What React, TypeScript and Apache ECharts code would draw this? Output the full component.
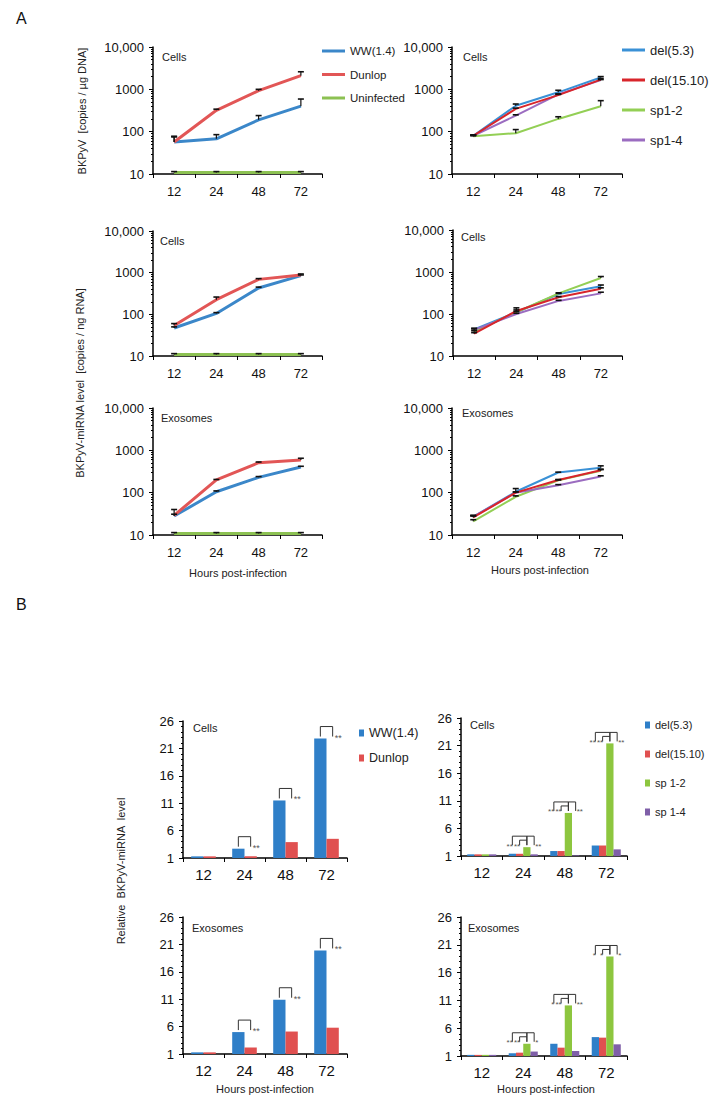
import React, { useEffect, useRef } from "react";
import * as echarts from "echarts";

// ---------- categories ----------
const hours = ["12", "24", "48", "72"];

// ---------- Panel A: BKPyV DNA, cells (left: WW/Dunlop/Uninfected) ----------
const dnaWW = [57, 68, 190, 400];
const dnaWWErr = [75, 85, 240, 590];
const dnaDunlop = [57, 320, 930, 2100];
const dnaDunlopErr = [78, 340, 1000, 2600];
const dnaUninf = [10.8, 10.8, 10.8, 10.8];
const dnaUninfErr = [11.4, 11.4, 11.4, 11.4];

// Panel A: BKPyV DNA, cells (right: mutants)
const dnaDel53 = [80, 410, 850, 1900];
const dnaDel53Err = [84, 450, 950, 2000];
const dnaDel1510 = [80, 345, 730, 1700];
const dnaDel1510Err = [84, 360, 760, 1800];
const dnaSp12 = [78, 92, 200, 400];
const dnaSp12Err = [80, 112, 225, 540];
const dnaSp14 = [80, 240, 760, 1650];
const dnaSp14Err = [82, 250, 780, 1700];

// Panel A: miRNA, cells (left)
const rnaWW = [47, 105, 430, 850];
const rnaWWErr = [50, 110, 450, 880];
const rnaDunlop = [54, 225, 690, 880];
const rnaDunlopErr = [60, 260, 720, 930];
const rnaUninf = [10.8, 10.8, 10.8, 10.8];
const rnaUninfErr = [11.4, 11.4, 11.4, 11.4];

// Panel A: miRNA, cells (right)
const rnaDel53 = [43, 110, 300, 460];
const rnaDel53Err = [46, 140, 310, 490];
const rnaDel1510 = [34, 118, 250, 400];
const rnaDel1510Err = [36, 125, 260, 420];
const rnaSp12 = [38, 110, 310, 720];
const rnaSp12Err = [40, 115, 320, 780];
const rnaSp14 = [42, 100, 205, 310];
const rnaSp14Err = [44, 104, 212, 330];

// Panel A: miRNA, exosomes (left)
const exoWW = [28, 105, 230, 405];
const exoWWErr = [31, 110, 240, 420];
const exoDunlop = [29, 200, 510, 595];
const exoDunlopErr = [40, 205, 530, 650];
const exoUninf = [10.8, 10.8, 10.8, 10.8];
const exoUninfErr = [11.4, 11.4, 11.4, 11.4];

// Panel A: miRNA, exosomes (right)
const exoDel53 = [27, 105, 300, 390];
const exoDel53Err = [29, 125, 305, 430];
const exoDel1510 = [26, 100, 200, 340];
const exoDel1510Err = [28, 104, 205, 360];
const exoSp12 = [21, 80, 195, 330];
const exoSp12Err = [23, 84, 200, 350];
const exoSp14 = [27, 100, 150, 240];
const exoSp14Err = [29, 104, 155, 250];

// ---------- Panel B: relative miRNA level ----------
const bCellsWW = [1.3, 2.7, 11.5, 22.8];
const bCellsDunlop = [1.3, 1.3, 3.9, 4.5];
const bExoWW = [1.3, 5.0, 10.9, 19.9];
const bExoDunlop = [1.3, 2.2, 5.1, 5.8];

const bCellsDel53 = [1.3, 1.4, 1.9, 2.9];
const bCellsDel1510 = [1.3, 1.4, 1.9, 2.9];
const bCellsSp12 = [1.3, 2.6, 8.8, 21.4];
const bCellsSp14 = [1.3, 1.3, 1.1, 2.2];
const bExoDel53 = [1.2, 1.5, 3.2, 4.4];
const bExoDel1510 = [1.2, 1.6, 2.5, 4.3];
const bExoSp12 = [1.2, 3.2, 10.1, 18.9];
const bExoSp14 = [1.2, 1.8, 1.9, 3.1];

// significance marks (for categories 24, 48, 72)
const sigCats = [1, 2, 3];
const sigLeftCells = ["**", "**", "**"];
const sigLeftExo = ["**", "**", "**"];
const sigRightCells = [["**", "**", "**"], ["**", "**", "**"], ["**", "**", "**"]];
const sigRightExo = [["**", "**", "*"], ["*", "**", "**"], ["*", "*", "*"]];

// ---------- layout & style ----------
const FONT = '"Liberation Sans", Arial, sans-serif';

const lineGrids = [
  { left: 153, top: 47, width: 169, height: 127 },
  { left: 452, top: 47, width: 170, height: 127 },
  { left: 153, top: 231, width: 169, height: 125 },
  { left: 453, top: 230, width: 169, height: 126 },
  { left: 153, top: 408, width: 169, height: 127 },
  { left: 452, top: 408, width: 170, height: 127 },
];
const barGrids = [
  { left: 183, top: 721, width: 164, height: 137 },
  { left: 461, top: 718, width: 166, height: 138 },
  { left: 183, top: 917, width: 164, height: 137 },
  { left: 461, top: 917, width: 166, height: 139 },
];

const C = {
  ww: "#3b87c9",
  dunlop: "#e25656",
  uninf: "#8cc152",
  del53: "#3a91d6",
  del1510: "#d8252b",
  sp12: "#93cf55",
  sp14: "#9b6cc0",
  bBlue: "#2f7fc8",
  bRed: "#e05050",
  bGreen: "#8dc63f",
  bPurple: "#7f5fa8",
};

const errRender = (params: any, api: any) => {
  const a = api.coord([api.value(0), api.value(1)]);
  const b = api.coord([api.value(0), api.value(2)]);
  return {
    type: "group",
    children: [
      { type: "line", shape: { x1: a[0], y1: a[1], x2: b[0], y2: b[1] }, style: { stroke: "#111", lineWidth: 1.2 } },
      { type: "line", shape: { x1: b[0] - 3, y1: b[1], x2: b[0] + 3, y2: b[1] }, style: { stroke: "#111", lineWidth: 1.6 } },
    ],
  };
};

const bracketLeft = (stars: string[]) => (params: any, api: any) => {
  const p = api.coord([api.value(0), api.value(1)]);
  const bw = api.size([1, 0])[0];
  const barW = (bw * 0.6) / 2;
  const x0 = p[0] - barW / 2;
  const x1 = p[0] + barW / 2;
  const top = p[1] - 12;
  const bot = p[1] - 2;
  return {
    type: "group",
    children: [
      { type: "polyline", shape: { points: [[x0, bot], [x0, top], [x1, top], [x1, bot]] }, style: { stroke: "#333", lineWidth: 1, fill: null } },
      { type: "text", x: x1 + 2, y: p[1] - 1, style: { text: stars[params.dataIndex], fontSize: 9, fill: "#555", align: "left", verticalAlign: "middle", fontFamily: FONT } },
    ],
  };
};

const bracketRight = (stars: string[][]) => (params: any, api: any) => {
  const p = api.coord([api.value(0), api.value(1)]);
  const bw = api.size([1, 0])[0];
  const barW = (bw * 0.7) / 4;
  const c = [0, 1, 2, 3].map((i) => p[0] - 2 * barW + barW * (i + 0.5));
  const t1 = p[1] - 11;
  const t2 = p[1] - 7;
  const bot = p[1] - 2;
  const s = stars[params.dataIndex];
  const st = { stroke: "#333", lineWidth: 1, fill: null };
  const ts = (text: string, x: number, align: string) => ({
    type: "text",
    x,
    y: p[1] - 1,
    style: { text, fontSize: 8, fill: "#555", align, verticalAlign: "middle", fontFamily: FONT },
  });
  return {
    type: "group",
    children: [
      { type: "polyline", shape: { points: [[c[0], bot], [c[0], t1], [c[2], t1], [c[2], bot]] }, style: st },
      { type: "polyline", shape: { points: [[c[1], bot], [c[1], t2], [c[2], t2]] }, style: st },
      { type: "polyline", shape: { points: [[c[2], bot], [c[2], t1], [c[3], t1], [c[3], bot]] }, style: st },
      ts(s[0], c[0] + 0.5, "right"),
      ts(s[1], c[1] + 0.5, "right"),
      ts(s[2], c[3] + 1, "left"),
    ],
  };
};

function buildOption() {
  const grid: any[] = [];
  const xAxis: any[] = [];
  const yAxis: any[] = [];
  const series: any[] = [];

  lineGrids.forEach((g, i) => {
    grid.push({ ...g });
    xAxis.push({
      type: "category",
      gridIndex: i,
      data: hours,
      boundaryGap: true,
      axisLine: { lineStyle: { color: "#000", width: 1.5 } },
      axisTick: { show: true, length: 4, lineStyle: { color: "#000", width: 1 } },
      axisLabel: { color: "#111", fontSize: 13, fontFamily: FONT, margin: 11 },
    });
    yAxis.push({
      type: "log",
      logBase: 10,
      min: 10,
      max: 10000,
      gridIndex: i,
      axisLine: { show: true, lineStyle: { color: "#000", width: 1.5 } },
      axisTick: { show: true, length: 4, lineStyle: { color: "#000", width: 1 } },
      minorTick: { show: true, splitNumber: 9, length: 2, lineStyle: { color: "#000", width: 1 } },
      splitLine: { show: false },
      minorSplitLine: { show: false },
      axisLabel: {
        color: "#111",
        fontSize: 13,
        fontFamily: FONT,
        margin: 9,
        formatter: (v: number) => {
          const r = Math.round(v);
          return r >= 10000 ? "10,000" : String(r);
        },
      },
    });
  });

  barGrids.forEach((g, j) => {
    const i = j + 6;
    grid.push({ ...g });
    xAxis.push({
      type: "category",
      gridIndex: i,
      data: hours,
      boundaryGap: true,
      axisLine: { lineStyle: { color: "#000", width: 1.5 } },
      axisTick: { show: true, length: 4, lineStyle: { color: "#000", width: 1 } },
      axisLabel: { color: "#111", fontSize: 15, fontFamily: FONT, margin: 9 },
    });
    yAxis.push({
      type: "value",
      min: 1,
      max: 26,
      interval: 5,
      gridIndex: i,
      axisLine: { show: true, lineStyle: { color: "#000", width: 1.5 } },
      axisTick: { show: true, length: 4, lineStyle: { color: "#000", width: 1 } },
      minorTick: { show: true, splitNumber: 5, length: 2, lineStyle: { color: "#000", width: 1 } },
      splitLine: { show: false },
      axisLabel: { color: "#111", fontSize: 13, fontFamily: FONT, margin: 9 },
    });
  });

  const line = (idx: number, name: string, data: number[], err: number[], color: string, width: number) => {
    series.push({
      type: "line",
      name,
      xAxisIndex: idx,
      yAxisIndex: idx,
      data,
      showSymbol: false,
      symbol: "none",
      lineStyle: { width, color },
      itemStyle: { color },
      z: 2,
    });
    series.push({
      type: "custom",
      name: name + "-err",
      xAxisIndex: idx,
      yAxisIndex: idx,
      data: data.map((v, k) => [k, v, err[k]]),
      renderItem: errRender,
      silent: true,
      z: 5,
    });
  };

  const leftSets = [
    [dnaWW, dnaWWErr, dnaDunlop, dnaDunlopErr, dnaUninf, dnaUninfErr],
    [rnaWW, rnaWWErr, rnaDunlop, rnaDunlopErr, rnaUninf, rnaUninfErr],
    [exoWW, exoWWErr, exoDunlop, exoDunlopErr, exoUninf, exoUninfErr],
  ];
  leftSets.forEach((s, r) => {
    const idx = r * 2;
    line(idx, "Uninfected", s[4], s[5], C.uninf, 3);
    line(idx, "WW(1.4)", s[0], s[1], C.ww, 3);
    line(idx, "Dunlop", s[2], s[3], C.dunlop, 3);
  });
  const rightSets = [
    [dnaDel53, dnaDel53Err, dnaDel1510, dnaDel1510Err, dnaSp12, dnaSp12Err, dnaSp14, dnaSp14Err],
    [rnaDel53, rnaDel53Err, rnaDel1510, rnaDel1510Err, rnaSp12, rnaSp12Err, rnaSp14, rnaSp14Err],
    [exoDel53, exoDel53Err, exoDel1510, exoDel1510Err, exoSp12, exoSp12Err, exoSp14, exoSp14Err],
  ];
  rightSets.forEach((s, r) => {
    const idx = r * 2 + 1;
    line(idx, "del(5.3)", s[0], s[1], C.del53, 2);
    line(idx, "sp1-2", s[4], s[5], C.sp12, 2);
    line(idx, "sp1-4", s[6], s[7], C.sp14, 2);
    line(idx, "del(15.10)", s[2], s[3], C.del1510, 2);
  });

  const bar = (idx: number, name: string, data: number[], color: string, gap: string) => {
    series.push({
      type: "bar",
      name,
      xAxisIndex: idx,
      yAxisIndex: idx,
      data,
      barGap: "0%",
      barCategoryGap: gap,
      itemStyle: { color },
    });
  };
  bar(6, "WW(1.4) ", bCellsWW, C.bBlue, "40%");
  bar(6, "Dunlop ", bCellsDunlop, C.bRed, "40%");
  bar(8, "WW(1.4) ", bExoWW, C.bBlue, "40%");
  bar(8, "Dunlop ", bExoDunlop, C.bRed, "40%");
  bar(7, "del(5.3) ", bCellsDel53, C.bBlue, "30%");
  bar(7, "del(15.10) ", bCellsDel1510, C.bRed, "30%");
  bar(7, "sp 1-2", bCellsSp12, C.bGreen, "30%");
  bar(7, "sp 1-4", bCellsSp14, C.bPurple, "30%");
  bar(9, "del(5.3) ", bExoDel53, C.bBlue, "30%");
  bar(9, "del(15.10) ", bExoDel1510, C.bRed, "30%");
  bar(9, "sp 1-2", bExoSp12, C.bGreen, "30%");
  bar(9, "sp 1-4", bExoSp14, C.bPurple, "30%");

  const brackets = (idx: number, tops: number[], render: any) => {
    series.push({
      type: "custom",
      name: "sig" + idx,
      xAxisIndex: idx,
      yAxisIndex: idx,
      data: sigCats.map((c) => [c, tops[c]]),
      renderItem: render,
      silent: true,
      z: 6,
    });
  };
  brackets(6, bCellsWW, bracketLeft(sigLeftCells));
  brackets(8, bExoWW, bracketLeft(sigLeftExo));
  brackets(7, bCellsSp12, bracketRight(sigRightCells));
  brackets(9, bExoSp12, bracketRight(sigRightExo));

  const legend = [
    {
      orient: "vertical",
      left: 322,
      top: 44,
      padding: 0,
      itemGap: 9.5,
      itemWidth: 23,
      itemHeight: 3,
      icon: "rect",
      textStyle: { fontSize: 11.5, fontFamily: FONT, color: "#222", lineHeight: 14 },
      data: [
        { name: "WW(1.4)", itemStyle: { color: C.ww } },
        { name: "Dunlop", itemStyle: { color: C.dunlop } },
        { name: "Uninfected", itemStyle: { color: C.uninf } },
      ],
      selectedMode: false,
    },
    {
      orient: "vertical",
      left: 622,
      top: 43,
      padding: 0,
      itemGap: 16,
      itemWidth: 23,
      itemHeight: 3,
      icon: "rect",
      textStyle: { fontSize: 13, fontFamily: FONT, color: "#222", lineHeight: 14 },
      data: [
        { name: "del(5.3)", itemStyle: { color: C.del53 } },
        { name: "del(15.10)", itemStyle: { color: C.del1510 } },
        { name: "sp1-2", itemStyle: { color: C.sp12 } },
        { name: "sp1-4", itemStyle: { color: C.sp14 } },
      ],
      selectedMode: false,
    },
    {
      orient: "vertical",
      left: 359,
      top: 725,
      padding: 0,
      itemGap: 9,
      itemWidth: 5,
      itemHeight: 7,
      icon: "rect",
      textStyle: { fontSize: 12.5, fontFamily: FONT, color: "#222", lineHeight: 16 },
      data: [
        { name: "WW(1.4) ", itemStyle: { color: C.bBlue } },
        { name: "Dunlop ", itemStyle: { color: C.bRed } },
      ],
      selectedMode: false,
    },
    {
      orient: "vertical",
      left: 645,
      top: 717,
      padding: 0,
      itemGap: 13,
      itemWidth: 5,
      itemHeight: 7,
      icon: "rect",
      textStyle: { fontSize: 11, fontFamily: FONT, color: "#222", lineHeight: 16 },
      data: [
        { name: "del(5.3) ", itemStyle: { color: C.bBlue } },
        { name: "del(15.10) ", itemStyle: { color: C.bRed } },
        { name: "sp 1-2", itemStyle: { color: C.bGreen } },
        { name: "sp 1-4", itemStyle: { color: C.bPurple } },
      ],
      selectedMode: false,
    },
  ];

  const txt = (text: string, x: number, y: number, size: number, opts: any = {}) => ({
    type: "text",
    x,
    y,
    rotation: opts.rotation || 0,
    style: {
      text,
      fontSize: size,
      fontFamily: opts.font || FONT,
      fill: opts.color || "#222",
      align: opts.align || "left",
      verticalAlign: "middle",
    },
    z: 10,
  });

  const graphic = [
    txt("A", 16, 18, 16, { color: "#111" }),
    txt("B", 16, 604, 16, { color: "#111" }),
    txt("Cells", 162, 57, 11),
    txt("Cells", 463, 57, 11),
    txt("Cells", 160, 241, 11),
    txt("Cells", 461, 237, 11),
    txt("Exosomes", 161, 418, 11),
    txt("Exosomes", 462, 413, 11),
    txt("Hours post-infection", 238, 573, 11, { align: "center" }),
    txt("Hours post-infection", 540, 570, 11, { align: "center" }),
    txt("BKPyV  [copies / \u00b5g DNA]", 82, 111, 11, { align: "center", rotation: Math.PI / 2 }),
    txt("BKPyV-miRNA level  [copies / ng RNA]", 80, 383, 11, { align: "center", rotation: Math.PI / 2 }),
    txt("Cells", 193, 728, 11),
    txt("Cells", 470, 725, 11),
    txt("Exosomes", 192, 928, 11),
    txt("Exosomes", 468, 928, 11),
    txt("Hours post-infection", 265, 1089, 11, { align: "center" }),
    txt("Hours post-infection", 546, 1089, 11, { align: "center" }),
    txt("Relative  BKPyV-miRNA  level", 121, 871, 11, { align: "center", rotation: Math.PI / 2 }),
  ];

  return {
    animation: false,
    backgroundColor: "#ffffff",
    textStyle: { fontFamily: FONT },
    grid,
    xAxis,
    yAxis,
    series,
    legend,
    graphic,
  };
}

export default function App() {
  const ref = useRef<HTMLDivElement>(null);
  useEffect(() => {
    if (!ref.current) return;
    const chart = echarts.init(ref.current, undefined, { renderer: "svg" });
    chart.setOption(buildOption() as any);
    return () => chart.dispose();
  }, []);
  return (
    <div
      ref={ref}
      style={{ position: "absolute", left: 0, top: 0, width: 714, height: 1107, background: "#fff" }}
    />
  );
}
